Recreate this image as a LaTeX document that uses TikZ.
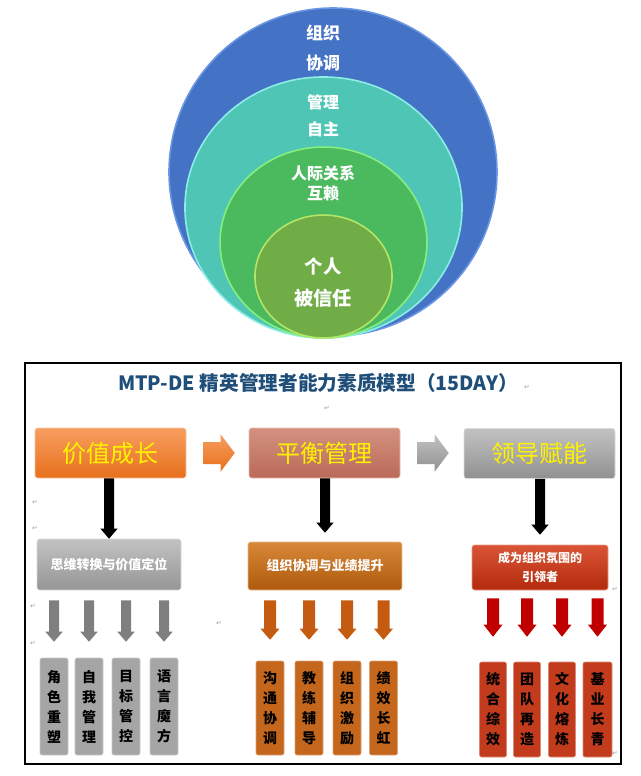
\documentclass[tikz,border=0pt]{standalone}
\usepackage{fontspec}
\newfontfamily\cjk{Noto Sans CJK SC}
\newfontfamily\symb{DejaVu Sans}
\usetikzlibrary{calc}
\definecolor{ringblue}{HTML}{4472C4}
\definecolor{rimblue}{HTML}{6A96E4}
\definecolor{ringteal}{HTML}{4FC5B5}
\definecolor{rimteal}{HTML}{8CEDE6}
\definecolor{ringgreen}{HTML}{4BBA5F}
\definecolor{rimgreen}{HTML}{86EE7E}
\definecolor{ringcore}{HTML}{70AD47}
\definecolor{rimcore}{HTML}{B4E468}
\definecolor{titleblue}{HTML}{1F4E79}
\definecolor{orangeT}{HTML}{F79E60}
\definecolor{orangeB}{HTML}{E7701C}
\definecolor{salmonT}{HTML}{D4917F}
\definecolor{salmonB}{HTML}{BA6A5A}
\definecolor{greyT}{HTML}{C2C2C2}
\definecolor{greyB}{HTML}{909090}
\definecolor{brownT}{HTML}{D8883A}
\definecolor{brownB}{HTML}{AE5A0C}
\definecolor{redT}{HTML}{D95535}
\definecolor{redB}{HTML}{B32A0C}
\definecolor{garrow}{HTML}{7F7F7F}
\definecolor{barrow}{HTML}{C55A11}
\definecolor{rarrow}{HTML}{C00000}
\definecolor{gsmall}{HTML}{A5A5A5}
\definecolor{bsmall}{HTML}{C4661C}
\definecolor{rsmall}{HTML}{C33B1D}

\begin{document}
\begin{tikzpicture}[x=0.75pt,y=-0.75pt]
    \tikzset{
      circtext/.style={text=white,font=\cjk\bfseries\fontsize{12}{14}\selectfont,inner sep=0pt},
      bigbox/.style={rounded corners=2pt,minimum width=113.25pt,minimum height=37.5pt,
        text=yellow,font=\cjk\fontsize{18}{20}\selectfont,inner sep=0pt},
      midbox/.style={rounded corners=2pt,text=white,align=center,inner sep=0pt,
        font=\cjk\bfseries\fontsize{9.75}{14.5}\selectfont},
      smallbox/.style={rounded corners=1.5pt,minimum width=21pt,minimum height=72.75pt,
        align=center,inner sep=0pt,font=\cjk\bfseries\fontsize{10.5}{15}\selectfont},
      ret/.style={text=black!40,font=\symb\fontsize{5}{5}\selectfont,inner sep=0pt},
      blockdown/.style args={#1/#2/#3}{to path={let \p1=(\tikztostart), \p2=(\tikztotarget) in
        (\x1-#1,\y1) -- (\x1+#1,\y1) -- (\x1+#1,\y2+#3) -- (\x1+#2,\y2+#3) -- (\x1,\y2)
        -- (\x1-#2,\y2+#3) -- (\x1-#1,\y2+#3) -- cycle}},
      blockright/.style args={#1/#2/#3}{to path={let \p1=(\tikztostart), \p2=(\tikztotarget) in
        (\x1,\y1+#1) -- (\x2-#3,\y1+#1) -- (\x2-#3,\y1+#2) -- (\x2,\y1)
        -- (\x2-#3,\y1-#2) -- (\x2-#3,\y1-#1) -- (\x1,\y1-#1) -- cycle}},
    }
    \useasboundingbox (0,0) rectangle (641,776);

    %RINGS
    \filldraw[fill=ringblue,draw=rimblue,line width=1.2pt] (333,172) circle [radius=123pt];
    \filldraw[fill=ringteal,draw=rimteal,line width=1.2pt] (323.5,207.5) ellipse [x radius=103.9pt,y radius=97.9pt];
    \filldraw[fill=ringgreen,draw=rimgreen,line width=1.2pt] (323.5,242.5) ellipse [x radius=77.6pt,y radius=71.6pt];
    \filldraw[fill=ringcore,draw=rimcore,line width=1.2pt] (323.5,276.5) ellipse [x radius=51.4pt,y radius=46.1pt];

    \node[circtext,font=\cjk\bfseries\fontsize{12.75}{14}\selectfont] (org1) at (323,33) {组织};
    \node[circtext,font=\cjk\bfseries\fontsize{12.75}{14}\selectfont] (org2) at (323,63) {协调};
    \node[circtext] (mgr1) at (323,102) {管理};
    \node[circtext] (mgr2) at (323,129) {自主};
    \node[circtext] (rel1) at (323,173) {人际关系};
    \node[circtext] (rel2) at (323,193) {互赖};
    \node[circtext,font=\cjk\bfseries\fontsize{13.8}{16}\selectfont] (self1) at (323,266) {个人};
    \node[circtext,font=\cjk\bfseries\fontsize{14.4}{16}\selectfont] (self2) at (323,298) {被信任};

    %FRAME
    \draw[black,line width=1.5pt] (25,363) rectangle (621,764);
    \node[text=titleblue,font=\cjk\bfseries\fontsize{14.75}{17}\selectfont,inner sep=0pt] (title) at (318,383)
      {MTP-DE 精英管理者能力素质模型（15DAY）};

    %TOP ROW
    \node[bigbox,top color=orangeT,bottom color=orangeB,draw=orangeT!60!white] (grow) at (110.5,453) {价值成长};
    \node[bigbox,top color=salmonT,bottom color=salmonB,draw=salmonT!60!white] (bal) at (324.5,453) {平衡管理};
    \node[bigbox,top color=greyT,bottom color=greyB,draw=greyT!60!white] (lead) at (539.5,453.5) {领导赋能};

    \shade[top color=orangeT,bottom color=orangeB] ($(grow.east)+(17,0)$) to[blockright=8.25pt/13.9pt/10.5pt] ($(bal.west)+(-14,0)$);
    \shade[top color=greyT,bottom color=greyB] ($(bal.east)+(17,0)$) to[blockright=8.25pt/13.9pt/10.5pt] ($(lead.west)+(-15,0)$);

    %MIDDLE ROW
    \node[midbox,minimum width=108pt,minimum height=38.25pt,top color=greyT,bottom color=greyB!95,draw=greyT!60!white] (subg) at (109,564.5) {思维转换与价值定位};
    \node[midbox,minimum width=115.5pt,minimum height=36pt,top color=brownT,bottom color=brownB,draw=brownT!60!white] (subb) at (325,566) {组织协调与业绩提升};
    \node[midbox,minimum width=102pt,minimum height=33.75pt,top color=redT,bottom color=redB,draw=redT!60!white,
      font=\cjk\bfseries\fontsize{9}{14.25}\selectfont] (subr) at (540,567.5) {成为组织氛围的\\引领者};

    \fill[black] (grow.south -| subg.north) to[blockdown=3.75pt/6.4pt/7.5pt] (subg.north);
    \fill[black] (bal.south -| subb.north) to[blockdown=3.75pt/6.4pt/7.5pt] ($(subb.north)+(0,-9)$);
    \fill[black] (lead.south -| subr.north) to[blockdown=3.75pt/6.4pt/7.5pt] ($(subr.north)+(0,-10)$);

    %BOTTOM ROW
    \node[smallbox,fill=gsmall,draw=gsmall!60!white] (sg1) at (54,706.5) {角\\色\\重\\塑};
    \node[smallbox,fill=gsmall,draw=gsmall!60!white] (sg2) at (89,706.5) {自\\我\\管\\理};
    \node[smallbox,fill=gsmall,draw=gsmall!60!white] (sg3) at (126,706.5) {目\\标\\管\\控};
    \node[smallbox,fill=gsmall,draw=gsmall!60!white] (sg4) at (164,706.5) {语\\言\\魔\\方};

    \node[smallbox,fill=bsmall,draw=bsmall!60!white,minimum height=70.5pt] (sb1) at (270,708) {沟\\通\\协\\调};
    \node[smallbox,fill=bsmall,draw=bsmall!60!white,minimum height=70.5pt] (sb2) at (309,708) {教\\练\\辅\\导};
    \node[smallbox,fill=bsmall,draw=bsmall!60!white,minimum height=70.5pt] (sb3) at (347,708) {组\\织\\激\\励};
    \node[smallbox,fill=bsmall,draw=bsmall!60!white,minimum height=70.5pt] (sb4) at (383.5,708) {绩\\效\\长\\虹};

    \node[smallbox,fill=rsmall,draw=rsmall!60!white,minimum width=20.25pt,minimum height=71.25pt] (sr1) at (493,709.5) {统\\合\\综\\效};
    \node[smallbox,fill=rsmall,draw=rsmall!60!white,minimum width=20.25pt,minimum height=71.25pt] (sr2) at (527,709.5) {团\\队\\再\\造};
    \node[smallbox,fill=rsmall,draw=rsmall!60!white,minimum width=20.25pt,minimum height=71.25pt] (sr3) at (562,709.5) {文\\化\\熔\\炼};
    \node[smallbox,fill=rsmall,draw=rsmall!60!white,minimum width=21.75pt,minimum height=71.25pt] (sr4) at (597.5,709.5) {基\\业\\长\\青};

    \fill[garrow] ($(subg.south -| sg1.north)+(0,10)$) to[blockdown=3.75pt/6.5pt/7.5pt] ($(sg1.north)+(0,-16)$);
    \fill[garrow] ($(subg.south -| sg2.north)+(0,10)$) to[blockdown=3.75pt/6.5pt/7.5pt] ($(sg2.north)+(0,-16)$);
    \fill[garrow] ($(subg.south -| sg3.north)+(0,10)$) to[blockdown=3.75pt/6.5pt/7.5pt] ($(sg3.north)+(0,-16)$);
    \fill[garrow] ($(subg.south -| sg4.north)+(0,10)$) to[blockdown=3.75pt/6.5pt/7.5pt] ($(sg4.north)+(0,-16)$);

    \fill[barrow] ($(subb.south -| sb1.north)+(0,10)$) to[blockdown=4.5pt/7.1pt/8.25pt] ($(sb1.north)+(0,-21)$);
    \fill[barrow] ($(subb.south -| sb2.north)+(0,10)$) to[blockdown=4.5pt/7.1pt/8.25pt] ($(sb2.north)+(0,-21)$);
    \fill[barrow] ($(subb.south -| sb3.north)+(0,10)$) to[blockdown=4.5pt/7.1pt/8.25pt] ($(sb3.north)+(0,-21)$);
    \fill[barrow] ($(subb.south -| sb4.north)+(0,10)$) to[blockdown=4.5pt/7.1pt/8.25pt] ($(sb4.north)+(0,-21)$);

    \fill[rarrow] ($(subr.south -| sr1.north)+(0,8)$) to[blockdown=4.5pt/7.1pt/9pt] ($(sr1.north)+(0,-25)$);
    \fill[rarrow] ($(subr.south -| sr2.north)+(0,8)$) to[blockdown=4.5pt/7.1pt/9pt] ($(sr2.north)+(0,-25)$);
    \fill[rarrow] ($(subr.south -| sr3.north)+(0,8)$) to[blockdown=4.5pt/7.1pt/9pt] ($(sr3.north)+(0,-25)$);
    \fill[rarrow] ($(subr.south -| sr4.north)+(0,8)$) to[blockdown=4.5pt/7.1pt/9pt] ($(sr4.north)+(0,-25)$);

    %RETURN MARKS
    \node[ret] (r1) at (527,387) {↵};
    \node[ret] (r2) at (327,408) {↵};
    \node[ret] (r3) at (35,502) {↵};
    \node[ret] (r4) at (35,528) {↵};
    \node[ret] (r5) at (33,606) {↵};
    \node[ret] (r6) at (33,643) {↵};
    \node[ret] (r7) at (219,623) {↵};
    \node[ret] (r8) at (615,589) {↵};
    \node[ret] (r9) at (615,753) {↵};
\end{tikzpicture}
\end{document}
